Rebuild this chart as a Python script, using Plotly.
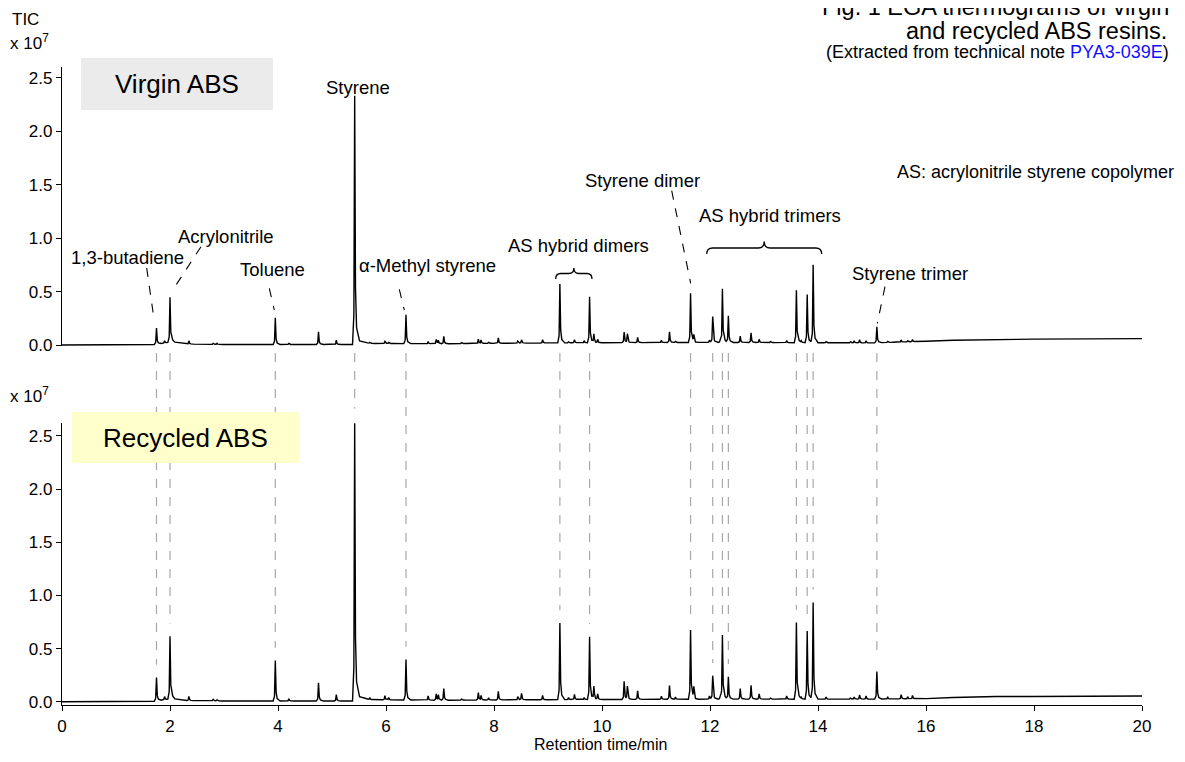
import numpy as np
import plotly.graph_objects as go

# ---------------- data ----------------
# peak retention times (min) shared by both thermograms
peak_rt = [1.75, 1.90, 2.00, 2.35, 2.80, 2.87, 3.20, 3.95, 4.20, 4.75, 5.08, 5.42,
           5.70, 5.98, 6.05, 6.37, 6.78, 6.93, 6.97, 7.07, 7.40, 7.71, 7.76, 7.90,
           8.08, 8.44, 8.51, 8.90, 9.22, 9.38, 9.49, 9.67, 9.77, 9.85, 9.92, 10.41,
           10.47, 10.66, 11.10, 11.25, 11.36, 11.64, 11.70, 11.99, 12.05, 12.19, 12.23,
           12.34, 12.56, 12.76, 12.91, 13.12, 13.42, 13.60, 13.69, 13.80, 13.91, 14.15,
           14.60, 14.67, 14.77, 14.89, 15.09, 15.29, 15.54, 15.66, 15.75]
# peak heights above baseline (x 10^7)
virgin_h = [0.15, 0.02, 0.42, 0.03, 0.01, 0.01, 0.005, 0.25, 0.01, 0.12, 0.04, 2.32,
            0.01, 0.02, 0.01, 0.27, 0.02, 0.04, 0.03, 0.07, 0.01, 0.04, 0.03, 0.01,
            0.05, 0.02, 0.03, 0.03, 0.55, 0.01, 0.03, 0.02, 0.43, 0.08, 0.03, 0.10,
            0.08, 0.05, 0.02, 0.10, 0.01, 0.46, 0.06, 0.02, 0.24, 0.04, 0.50,
            0.25, 0.06, 0.09, 0.03, 0.01, 0.02, 0.49, 0.02, 0.45, 0.73, 0.01,
            0.01, 0.02, 0.03, 0.02, 0.15, 0.01, 0.02, 0.01, 0.02]
recycled_h = [0.22, 0.03, 0.59, 0.04, 0.015, 0.01, 0.005, 0.38, 0.02, 0.17, 0.06, 2.62,
              0.02, 0.04, 0.02, 0.38, 0.04, 0.06, 0.05, 0.11, 0.01, 0.07, 0.04, 0.02,
              0.08, 0.03, 0.06, 0.04, 0.72, 0.02, 0.05, 0.02, 0.59, 0.12, 0.05, 0.17,
              0.12, 0.08, 0.03, 0.13, 0.02, 0.65, 0.10, 0.03, 0.22, 0.05, 0.60,
              0.21, 0.10, 0.13, 0.05, 0.01, 0.03, 0.72, 0.02, 0.64, 0.91, 0.02,
              0.01, 0.02, 0.04, 0.03, 0.26, 0.02, 0.04, 0.02, 0.03]
# baselines
virgin_base_t = [0.0, 1.60, 1.70, 2.05, 2.30, 3.00, 5.40, 5.50, 5.70, 7.00, 9.00, 12.0, 15.0, 16.0, 16.5, 17.3, 18.0, 20.0]
virgin_base_v = [0.0, 0.0, 0.005, 0.03, 0.01, 0.005, 0.005, 0.04, 0.015, 0.012, 0.02, 0.025, 0.02, 0.035, 0.045, 0.05, 0.055, 0.06]
recycled_base_t = [0.0, 1.60, 1.70, 2.05, 2.30, 3.00, 5.40, 5.50, 5.70, 7.00, 9.00, 12.0, 15.0, 16.0, 16.5, 17.3, 18.0, 20.0]
recycled_base_v = [0.0, 0.0, 0.005, 0.03, 0.012, 0.008, 0.008, 0.05, 0.02, 0.015, 0.02, 0.025, 0.025, 0.03, 0.04, 0.05, 0.05, 0.055]

# peaks linked between the two thermograms by grey dashed lines
linked_rt = [1.75, 2.00, 3.95, 5.42, 6.37, 9.22, 9.77, 11.64, 12.05, 12.23, 12.34, 13.60, 13.80, 13.91, 15.09]

y_tick_vals = [0.0, 0.5, 1.0, 1.5, 2.0, 2.5]
x_tick_vals = [0, 2, 4, 6, 8, 10, 12, 14, 16, 18, 20]

# ---------------- rendering helpers ----------------
shape_off = [-0.04, -0.015, 0.0, 0.015, 0.035, 0.09]
shape_rel = [0.0, 0.12, 1.0, 0.22, 0.06, 0.0]


def chromatogram(base_t, base_v, heights):
    pts = set(base_t)
    for rt in peak_rt:
        for o in shape_off:
            pts.add(round(rt + o, 4))
    t = np.array(sorted(p for p in pts if 0 <= p <= 20))
    y = np.interp(t, base_t, base_v)
    for rt, h in zip(peak_rt, heights):
        y = y + h * np.interp(t - rt, shape_off, shape_rel, left=0.0, right=0.0)
    return t, y


# the page body has an 8px margin on every side: size the figure so the page fits the window
OFF = 8
W, H = 1185 - 2 * OFF, 762 - 2 * OFF
ML, MR, MT, MB = 54, 35, 59, 49
PW, PH = W - ML - MR, H - MT - MB


def px(x):  # x given in window pixels
    return (x - OFF - ML) / PW


def py(y):  # y given in window pixels
    return (H - MB - (y - OFF)) / PH


TOP_DOM = [0.5625, 1.0]
BOT_DOM = [0.0, 0.4417]
TOP_RANGE = [-0.01, 2.6]
BOT_RANGE = [-0.03, 2.62]


def bot_paper(v):
    return BOT_DOM[0] + (v - BOT_RANGE[0]) / (BOT_RANGE[1] - BOT_RANGE[0]) * (BOT_DOM[1] - BOT_DOM[0])


FONT = "Liberation Sans, Arial, sans-serif"

tv, yv = chromatogram(virgin_base_t, virgin_base_v, virgin_h)
tr, yr = chromatogram(recycled_base_t, recycled_base_v, recycled_h)

fig = go.Figure()
fig.add_trace(go.Scatter(x=tv, y=yv, mode="lines", line=dict(color="black", width=1.4),
                         xaxis="x2", yaxis="y2", showlegend=False, hoverinfo="skip"))
fig.add_trace(go.Scatter(x=tr, y=yr, mode="lines", line=dict(color="black", width=1.4),
                         xaxis="x", yaxis="y", showlegend=False, hoverinfo="skip"))

shapes = []
annotations = []

# grey dashed link lines
for rt in linked_rt:
    top_v = float(np.interp(rt, tr, yr))
    shapes.append(dict(type="line", xref="x", yref="paper", x0=rt, x1=rt,
                       y0=py(353), y1=bot_paper(top_v + 0.12),
                       line=dict(color="#a8a8a8", width=1.2, dash="dash"), layer="below"))

# label boxes
shapes.append(dict(type="rect", xref="paper", yref="paper", x0=px(81), x1=px(273),
                   y0=py(110), y1=py(58), fillcolor="#ebebeb", line=dict(width=0), layer="below"))
shapes.append(dict(type="rect", xref="paper", yref="paper", x0=px(72), x1=px(299),
                   y0=py(463), y1=py(412), fillcolor="#ffffcc", line=dict(width=0), layer="below"))

# black dashed leaders
leaders = [((146.7, 268), (154, 319)), ((201, 246.7), (171.7, 291.7)),
           ((269.3, 288.3), (274.3, 310)), ((399.3, 289.3), (404.3, 310)),
           ((671.7, 190.7), (690.7, 283.3)), ((885, 286.7), (877.3, 323.3))]
for (a, b) in leaders:
    shapes.append(dict(type="line", xref="paper", yref="paper", x0=px(a[0]), y0=py(a[1]),
                       x1=px(b[0]), y1=py(b[1]), line=dict(color="black", width=1.1, dash="dash")))


def brace(x0, x1, yb, yt, ytip, r=6):
    xm = (x0 + x1) / 2
    pts = [("M", [(x0, yb)]), ("Q", [(x0, yt), (x0 + r, yt)]), ("L", [(xm - r, yt)]),
           ("Q", [(xm, yt), (xm, ytip)]), ("Q", [(xm, yt), (xm + r, yt)]),
           ("L", [(x1 - r, yt)]), ("Q", [(x1, yt), (x1, yb)])]
    s = ""
    for cmd, p in pts:
        s += cmd + " " + " ".join(f"{px(a):.5f},{py(b):.5f}" for a, b in p) + " "
    return s.strip()


shapes.append(dict(type="path", xref="paper", yref="paper",
                   path=brace(555.7, 592, 279, 273.5, 268, r=5), line=dict(color="black", width=1.3)))
shapes.append(dict(type="path", xref="paper", yref="paper",
                   path=brace(706.7, 821.7, 254, 248, 241.5, r=6), line=dict(color="black", width=1.3)))


def label(text, x, y, size=18, xanchor="center", color="black"):
    annotations.append(dict(text=text, x=px(x), y=py(y), xref="paper", yref="paper",
                            showarrow=False, xanchor=xanchor, yanchor="middle",
                            font=dict(family=FONT, size=size, color=color)))


label("TIC", 10, 19, 17, "left")
label("x 10<sup>7</sup>", 8, 42, 17, "left")
label("x 10<sup>7</sup>", 8, 395, 17, "left")
label("Virgin ABS", 177, 84, 26)
label("Recycled ABS", 185, 438, 26)
label("Styrene", 358, 87, 18.5)
label("1,3-butadiene", 127, 258, 18.5)
label("Acrylonitrile", 226, 236, 18.5)
label("Toluene", 272, 269, 18.5)
label("α-Methyl styrene", 427, 265, 18.5)
label("AS hybrid dimers", 578, 245, 18.5)
label("Styrene dimer", 642, 180, 18.5)
label("AS hybrid trimers", 770, 215, 18.5)
label("Styrene trimer", 910, 273, 18.5)
label("AS: acrylonitrile styrene copolymer", 1176, 172, 18, "right")
label("Fig. 1 EGA thermograms of virgin", 1171, 7, 23.5, "right")
label("and recycled ABS resins.", 1169, 31, 23.5, "right")
label("(Extracted from technical note <span style='color:#1010ff'>PYA3-039E</span>)", 1171, 52, 18, "right")
label("Retention time/min", 600, 744, 16)

axis_common = dict(showgrid=False, zeroline=False, showline=True, linecolor="black", linewidth=1.2,
                   ticks="outside", tickcolor="black", tickfont=dict(family=FONT, size=17, color="black"))

fig.update_layout(
    width=W, height=H, margin=dict(l=ML, r=MR, t=MT, b=MB),
    paper_bgcolor="white", plot_bgcolor="white", showlegend=False,
    xaxis=dict(domain=[0, 1], range=[0, 20], tickvals=x_tick_vals, ticklen=5, anchor="y",
               **axis_common),
    yaxis=dict(domain=BOT_DOM, range=BOT_RANGE, tickvals=y_tick_vals, tickformat=".1f", ticklen=5,
               anchor="x", **axis_common),
    xaxis2=dict(domain=[0, 1], range=[0, 20], anchor="y2", matches="x", visible=False),
    yaxis2=dict(domain=TOP_DOM, range=TOP_RANGE, tickvals=y_tick_vals, tickformat=".1f", ticklen=5,
                anchor="x2", **axis_common),
    shapes=shapes, annotations=annotations,
)

fig.write_html("out.html")
